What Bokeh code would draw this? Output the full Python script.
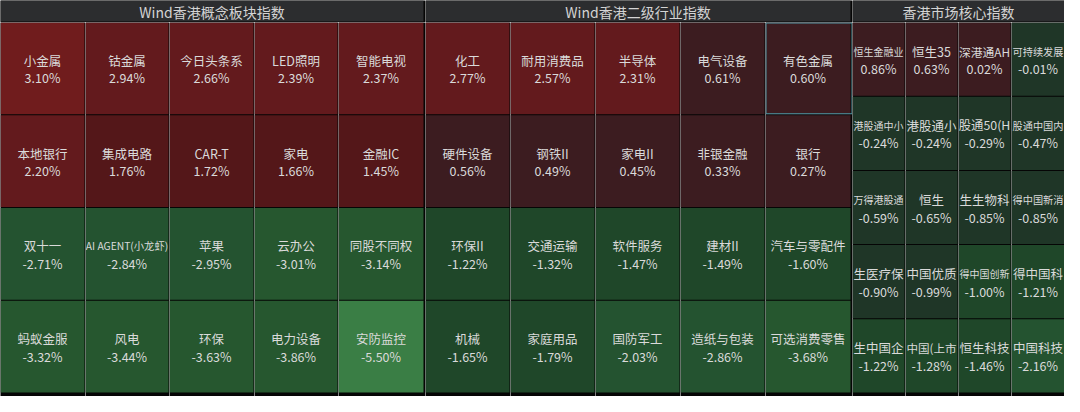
from bokeh.plotting import figure
from bokeh.models import Range1d, ColumnDataSource
from bokeh.layouts import row, column
from bokeh.core.properties import value
from bokeh.embed import file_html
from bokeh.resources import INLINE

# ---------------- data ----------------
titles = ["Wind香港概念板块指数", "Wind香港二级行业指数", "香港市场核心指数"]

concept_names = ["小金属", "钴金属", "今日头条系", "LED照明", "智能电视",
                 "本地银行", "集成电路", "CAR-T", "家电", "金融IC",
                 "双十一", "AI AGENT(小龙虾)", "苹果", "云办公", "同股不同权",
                 "蚂蚁金服", "风电", "环保", "电力设备", "安防监控"]
concept_values = [3.10, 2.94, 2.66, 2.39, 2.37,
                  2.20, 1.76, 1.72, 1.66, 1.45,
                  -2.71, -2.84, -2.95, -3.01, -3.14,
                  -3.32, -3.44, -3.63, -3.86, -5.50]

industry_names = ["化工", "耐用消费品", "半导体", "电气设备", "有色金属",
                  "硬件设备", "钢铁II", "家电II", "非银金融", "银行",
                  "环保II", "交通运输", "软件服务", "建材II", "汽车与零配件",
                  "机械", "家庭用品", "国防军工", "造纸与包装", "可选消费零售"]
industry_values = [2.77, 2.57, 2.31, 0.61, 0.60,
                   0.56, 0.49, 0.45, 0.33, 0.27,
                   -1.22, -1.32, -1.47, -1.49, -1.60,
                   -1.65, -1.79, -2.03, -2.86, -3.68]

# names as far as they are legible in the (cut) reference cells
core_names = ["恒生金融业", "恒生35", "深港通AH", "可持续发展",
              "港股通中小", "港股通小", "股通50(H", "股通中国内",
              "万得港股通", "恒生", "生生物科", "得中国新消",
              "生医疗保", "中国优质", "得中国创新", "得中国科",
              "生中国企", "中国(上市", "恒生科技", "中国科技"]
core_values = [0.86, 0.63, 0.02, -0.01,
               -0.24, -0.24, -0.29, -0.47,
               -0.59, -0.65, -0.85, -0.85,
               -0.90, -0.99, -1.00, -1.21,
               -1.22, -1.28, -1.46, -2.16]

highlight_name = "有色金属"

# ---------------- style ----------------
FONT = value("Noto Sans CJK SC")
BG = "#050505"
HEADER_BG = "#2c2d2f"
HEADER_TEXT = "#d4d4d4"
CELL_TEXT = "#dadada"
HIGHLIGHT = "#4e98a6"
BASE_FS = 12.5


def cell_color(v):
    if v >= 3:
        return "#701c1d"
    if v >= 2:
        return "#631a1d"
    if v >= 1:
        return "#541719"
    if v >= 0:
        return "#3c1c20"
    if v > -1:
        return "#1f3627"
    if v > -2:
        return "#1f4729"
    if v > -3:
        return "#245330"
    if v > -5:
        return "#26572f"
    return "#3a7e45"


def em_width(s):
    w = 0.0
    for ch in s:
        if ord(ch) > 0x2E80:
            w += 1.0
        elif ch in "()":
            w += 0.32
        elif ch in " I":
            w += 0.25
        elif ch.isupper():
            w += 0.62
        else:
            w += 0.55
    return w


def fit_size(s, avail):
    fs = min(BASE_FS, avail / em_width(s))
    return "%.2fpx" % fs


TOTAL_W, TOTAL_H = 1064, 396
HEADER_H = 22
BODY_H = TOTAL_H - HEADER_H
BOTTOM_PAD = 3
PANEL_GAP = 2


def make_fig(w, h):
    p = figure(width=w, height=h, x_range=Range1d(0, w), y_range=Range1d(h, 0),
               toolbar_location=None, output_backend="svg", min_border=0,
               x_axis_location=None, y_axis_location=None,
               background_fill_color=BG, border_fill_color=BG,
               outline_line_color=None)
    p.xgrid.visible = False
    p.ygrid.visible = False
    return p


def make_panel(title, names, vals, ncols, nrows, content_w, trail_gap):
    panel_w = content_w + trail_gap
    hdr = make_fig(panel_w, HEADER_H)
    hdr.quad(left=[0], right=[content_w], top=[0], bottom=[HEADER_H - 1],
             fill_color=HEADER_BG, line_color=None)
    hdr.text(x=[content_w / 2], y=[(HEADER_H - 1) / 2 + 0.5], text=[title],
             text_align="center", text_baseline="middle", text_font=FONT,
             text_font_size="14px", text_color=HEADER_TEXT)

    edges = [round(content_w * i / ncols) for i in range(ncols + 1)]
    row_h = (BODY_H - BOTTOM_PAD) / nrows
    figs = []
    for c in range(ncols):
        cw = edges[c + 1] - edges[c]
        last = c == ncols - 1
        fw = cw + (trail_gap if last else 0)
        p = make_fig(fw, BODY_H)
        right = cw if last else cw - 1
        idx = [r * ncols + c for r in range(nrows)]
        src = ColumnDataSource(dict(
            left=[0] * nrows,
            right=[right] * nrows,
            top=[r * row_h for r in range(nrows)],
            bottom=[(r + 1) * row_h - 1 for r in range(nrows)],
            color=[cell_color(vals[i]) for i in idx],
            xc=[right / 2] * nrows,
            yname=[(r + 0.5) * row_h - 0.5 - 8 for r in range(nrows)],
            yval=[(r + 0.5) * row_h - 0.5 + 9.5 for r in range(nrows)],
            name=[names[i] for i in idx],
            nsize=[fit_size(names[i], right - 2) for i in idx],
            val=["%.2f%%" % vals[i] for i in idx],
            vsize=[fit_size("%.2f%%" % vals[i], right - 2) for i in idx],
        ))
        p.quad(left="left", right="right", top="top", bottom="bottom",
               fill_color="color", line_color=None, source=src)
        p.text(x="xc", y="yname", text="name", source=src, text_align="center",
               text_baseline="middle", text_font=FONT, text_font_size="nsize",
               text_color=CELL_TEXT)
        p.text(x="xc", y="yval", text="val", source=src, text_align="center",
               text_baseline="middle", text_font=FONT, text_font_size="vsize",
               text_color=CELL_TEXT)
        for r, i in enumerate(idx):
            if names[i] == highlight_name:
                p.quad(left=[0.5], right=[fw - 0.5], top=[r * row_h + 0.5],
                       bottom=[(r + 1) * row_h - 1.5], fill_color=None,
                       line_color=HIGHLIGHT, line_width=1)
        figs.append(p)
    return column(hdr, row(*figs, spacing=0), spacing=0)


left_w = 423
mid_w = 425
right_w = TOTAL_W - left_w - mid_w - 2 * PANEL_GAP

panel1 = make_panel(titles[0], concept_names, concept_values, 5, 4, left_w, PANEL_GAP)
panel2 = make_panel(titles[1], industry_names, industry_values, 5, 4, mid_w, PANEL_GAP)
panel3 = make_panel(titles[2], core_names, core_values, 4, 5, right_w, 0)

p = row(panel1, panel2, panel3, spacing=0)

open("out.html", "w").write(file_html(p, INLINE))
